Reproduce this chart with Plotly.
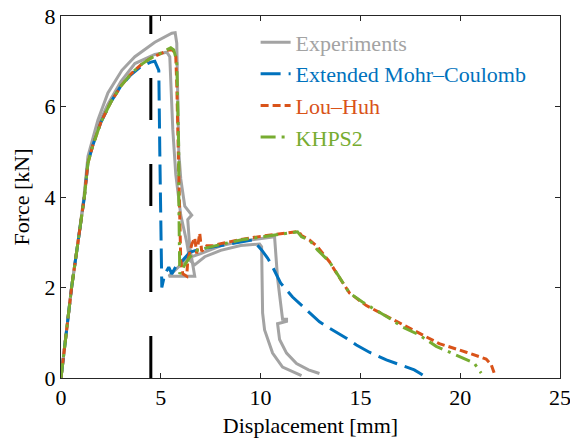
import plotly.graph_objects as go

# ---- data (displacement [mm], force [kN]) ----
exp_a_x = [0, 0.25, 0.53, 0.85, 1.15, 1.35, 1.85, 2.35, 3.05, 3.7, 4.7, 5.55, 5.72, 5.8, 5.85, 5.9, 6.0, 6.2, 6.55,
           6.35, 6.45, 6.7, 5.4, 5.9, 6.35, 7.0, 8.0, 9.0, 10.0, 10.7, 10.85, 11.1, 11.3, 11.3, 10.85, 10.95, 11.3,
           11.8, 12.4, 12.95]
exp_a_y = [0, 1.0, 2.0, 3.0, 4.0, 4.9, 5.7, 6.3, 6.8, 7.1, 7.42, 7.62, 7.63, 7.4, 6.0, 5.0, 4.4, 3.8, 3.6,
           3.5, 2.9, 2.25, 2.25, 2.45, 2.65, 2.75, 2.92, 3.02, 3.08, 3.12, 2.2, 1.3, 1.3, 1.25, 1.2, 0.85, 0.55,
           0.32, 0.18, 0.1]

exp_b_x = [0, 0.25, 0.53, 0.85, 1.17, 1.35, 1.6, 2.0, 2.35, 3.0, 3.7, 4.7, 5.3, 5.45, 5.5, 5.6, 5.75, 6.0, 6.3,
           6.45, 6.7, 7.2, 8.0, 9.0, 9.95, 10.05, 10.1, 10.2, 10.6, 11.1, 12.05]
exp_b_y = [0, 1.0, 2.0, 3.0, 4.0, 4.8, 5.2, 5.72, 6.05, 6.55, 6.95, 7.15, 7.2, 7.1, 6.6, 5.5, 4.5, 3.6, 3.0,
           2.6, 2.5, 2.68, 2.82, 2.93, 2.96, 2.9, 1.44, 1.06, 0.55, 0.24, 0.05]

emc_x = [0, 0.25, 0.53, 0.85, 1.17, 1.35, 1.6, 2.0, 2.5, 3.0, 3.5, 4.0, 4.5, 4.7, 4.9, 4.95, 5.0, 5.05, 5.2, 5.4,
         5.55, 5.8, 6.1, 6.45, 7.0, 8.0, 9.0, 9.6, 10.05, 10.35, 10.55, 11.0, 11.6, 12.2, 12.95, 13.45, 14.3,
         14.8, 15.45, 16.3, 16.95, 17.7, 18.0, 18.35]
emc_y = [0, 1.0, 2.0, 3.0, 4.0, 4.75, 5.15, 5.65, 6.1, 6.45, 6.7, 6.88, 6.98, 7.0, 6.8, 5.0, 3.5, 2.0, 2.3, 2.45,
         2.3, 2.5, 2.6, 2.78, 2.85, 2.93, 3.0, 3.05, 2.83, 2.65, 2.5, 2.1, 1.79, 1.55, 1.24, 1.1, 0.88,
         0.73, 0.57, 0.4, 0.29, 0.18, 0.1, 0.0]

lh_x = [0, 0.25, 0.53, 0.85, 1.17, 1.35, 1.6, 2.0, 2.5, 3.0, 3.5, 4.0, 4.5, 5.0, 5.4, 5.6, 5.75, 5.8, 5.85, 5.9,
        5.95, 6.0, 6.1, 6.3, 6.35, 6.55, 6.7, 6.8, 6.95, 7.05, 7.3, 7.6, 8.0, 9.0, 10.0, 11.0, 11.9, 12.05,
        12.45, 12.85, 13.45, 13.8, 14.45, 15.3, 16.6, 17.8, 18.95, 20.3, 21.3, 21.55, 21.75]
lh_y = [0, 1.0, 2.0, 3.0, 4.0, 4.75, 5.15, 5.65, 6.1, 6.45, 6.72, 6.92, 7.07, 7.17, 7.25, 7.25, 7.1, 6.5, 5.5, 4.5,
        3.5, 2.6, 2.3, 2.25, 2.6, 2.95, 3.1, 2.75, 3.2, 2.8, 2.92, 2.92, 2.97, 3.06, 3.13, 3.19, 3.24, 3.15,
        3.05, 2.9, 2.57, 2.32, 1.88, 1.6, 1.3, 1.02, 0.76, 0.57, 0.42, 0.3, 0.05]

khps_x = [0, 0.25, 0.53, 0.85, 1.17, 1.35, 1.6, 2.0, 2.5, 3.0, 3.5, 4.0, 4.5, 5.0, 5.5, 5.65, 5.8, 5.85, 5.9, 5.9,
          5.92, 5.95, 6.2, 6.45, 6.85, 7.45, 8.0, 9.0, 10.0, 11.0, 11.85, 12.05, 12.45, 12.85, 13.45, 13.8,
          14.45, 15.1, 15.8, 16.45, 17.1, 17.95, 18.8, 19.6, 20.1, 20.7, 21.05]
khps_y = [0, 1.0, 2.0, 3.0, 4.0, 4.75, 5.15, 5.65, 6.1, 6.45, 6.72, 6.92, 7.07, 7.18, 7.3, 7.25, 7.0, 6.0, 5.0, 4.0,
          3.0, 2.3, 2.5, 2.67, 2.83, 2.9, 2.95, 3.05, 3.12, 3.18, 3.23, 3.12, 3.05, 2.83, 2.57, 2.32,
          1.88, 1.68, 1.5, 1.32, 1.13, 0.95, 0.70, 0.55, 0.45, 0.33, 0.11]

marker_x = [4.5, 4.5]
marker_y = [0, 8]

x_ticks = [0, 5, 10, 15, 20, 25]
y_ticks = [0, 2, 4, 6, 8]

GRAY = "#A3A3A3"
BLUE = "#0072BD"
ORANGE = "#D95319"
GREEN = "#77AC30"
LW = 3
SERIF = "Liberation Serif, Times New Roman, serif"

fig = go.Figure()
fig.add_trace(go.Scatter(x=exp_a_x, y=exp_a_y, mode="lines", line=dict(color=GRAY, width=LW),
                         name=f"<span style='color:{GRAY}'>Experiments</span>"))
fig.add_trace(go.Scatter(x=exp_b_x, y=exp_b_y, mode="lines", line=dict(color=GRAY, width=LW),
                         showlegend=False))
fig.add_trace(go.Scatter(x=emc_x, y=emc_y, mode="lines", line=dict(color=BLUE, width=LW, dash="20px,8px"),
                         name=f"<span style='color:{BLUE}'>Extended Mohr–Coulomb</span>"))
fig.add_trace(go.Scatter(x=lh_x, y=lh_y, mode="lines", line=dict(color=ORANGE, width=LW, dash="8px,4px"),
                         name=f"<span style='color:{ORANGE}'>Lou–Huh</span>"))
fig.add_trace(go.Scatter(x=khps_x, y=khps_y, mode="lines",
                         line=dict(color=GREEN, width=LW, dash="15px,6px,3px,6px"),
                         name=f"<span style='color:{GREEN}'>KHPS2</span>"))
fig.add_trace(go.Scatter(x=marker_x, y=marker_y, mode="lines",
                         line=dict(color="black", width=3, dash="42px,44px"), showlegend=False))

axis_common = dict(showgrid=False, zeroline=False, showline=True, linecolor="#262626", linewidth=1,
                   mirror="ticks", ticks="inside", ticklen=5, tickcolor="#262626",
                   ticklabeloverflow="allow", automargin=False,
                   tickfont=dict(family=SERIF, size=22, color="#000000"))

fig.update_layout(
    width=570, height=440,
    margin=dict(l=61, r=10, t=16, b=62, autoexpand=False),
    plot_bgcolor="white", paper_bgcolor="white",
    font=dict(family=SERIF, size=22, color="#000000"),
    xaxis=dict(range=[0, 25], tickvals=x_ticks,
               title=dict(text="Displacement [mm]", font=dict(family=SERIF, size=22), standoff=8),
               **axis_common),
    yaxis=dict(range=[0, 8], tickvals=y_ticks,
               title=dict(text="Force [kN]", font=dict(family=SERIF, size=22), standoff=8),
               **axis_common),
    legend=dict(x=0.39, y=0.985, xanchor="left", yanchor="top", bgcolor="rgba(0,0,0,0)",
                font=dict(family=SERIF, size=22), tracegroupgap=0),
    showlegend=True,
)

fig.write_html("out.html")
